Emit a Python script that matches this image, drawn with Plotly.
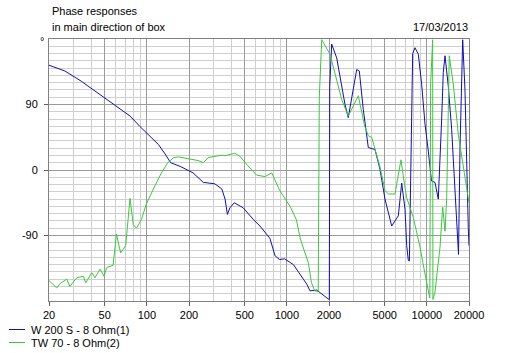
import plotly.graph_objects as go
import math

# ---- data ----
w200_freq = [20, 26, 34, 41, 52, 57, 76, 89, 99, 121, 135, 148, 173, 214, 253, 306, 343, 362, 376, 392,
             421, 488, 576, 643, 757, 824, 888, 962, 1114, 1244, 1389, 1462, 1634, 1970, 2010, 2025, 2090,
             2270, 2464, 2602, 2746, 2984, 3154, 3292, 3516, 3818, 4264, 4626, 5024, 5610, 6254, 6611,
             6980, 7180, 7370, 7500, 7670, 7920, 8230, 8690, 9180, 9700, 10240, 10520, 10790, 11430,
             12070, 12760, 13100, 13480, 14230, 15040, 15890, 16830, 17250, 18030, 18720, 19260, 19760, 20000]
w200_phase = [144, 136, 122, 111, 97, 92, 74, 60, 51, 35, 22, 10, 5, -4, -17, -19, -26, -40, -61, -52,
              -45, -52, -68, -77, -94, -118, -123, -122, -130, -143, -157, -166, -165, -177, -178, 115, 173,
              154, 118, 90, 72, 113, 138, 136, 83, 31, 28, 1, -40, -77, -63, -18,
              -54, -104, -124, -125, 19, 160, 168, 159, 118, 63, 26, 1, -15, -17,
              -40, 70, 134, 157, 115, 56, -36, -116, 30, 179, 110, -4, -79, -104]

tw70_freq = [20, 22.7, 24, 26.8, 28.2, 31.6, 35.2, 36.6, 40.4, 42.6, 46.3, 49.4, 51.6, 57.4, 60.6, 65,
             70.6, 75.8, 80, 84.3, 91.5, 99, 114, 127, 141, 155, 168, 192, 214, 232, 253, 274, 333, 370,
             424, 461, 515, 608, 697, 780, 888, 1054, 1168, 1250, 1421, 1500, 1580, 1675, 1705, 1774,
             2034, 2270, 2464, 2746, 3238, 3600, 3818, 4036, 4626, 5024, 5306, 5920, 6535, 6900, 7180,
             8000, 8934, 9700, 10240, 10500, 10650, 11000, 11050, 11430, 12416, 12980, 13480, 13860,
             14460, 15440, 16770, 18210, 19260, 20000]
tw70_phase = [-152, -162, -156, -150, -160, -148, -146, -155, -141, -148, -136, -146, -134, -131, -88, -114,
              -104, -39, -75, -80, -68, -47, -22, -4, 10, 17, 18, 16, 15, 13, 10, 17, 20, 20,
              23, 19, 8, -7, -9, -4, -28, -50, -68, -95, -127, -155, -166, -167, 100, 179,
              159, 125, 97, 74, 102, 60, 47, 45, 4, -28, -33, -33, 14, -18, -38,
              -65, -106, -143, -168, -176, 120, 179, -178, -168, -106, -51, -84, -38,
              157, 118, 49, 1, -25, -45]

x_ticks = [20, 50, 100, 200, 500, 1000, 2000, 5000, 10000, 20000]
x_minor = [30, 40, 60, 70, 80, 90, 300, 400, 600, 700, 800, 900, 3000, 4000, 6000, 7000, 8000, 9000]
y_ticks = [-90, 0, 90]

series_names = ["W 200 S - 8 Ohm(1)", "TW 70 - 8 Ohm(2)"]
series_colors = ["#1010b0", "#3cc83c"]

# ---- figure ----
W, H = 515, 353
L, R, T, B = 49, 46, 39, 52
PW, PH = W - L - R, H - T - B


def px_x(px):
    return (px - L) / PW


def px_y(py):
    return (H - B - py) / PH


FONT = "Liberation Sans, Arial, sans-serif"

fig = go.Figure()
for f, p, name, col in [(w200_freq, w200_phase, series_names[0], series_colors[0]),
                        (tw70_freq, tw70_phase, series_names[1], series_colors[1])]:
    fig.add_trace(go.Scatter(x=f, y=p, mode="lines", name=name,
                             line=dict(color=col, width=1), showlegend=False))

fig.update_layout(
    width=W, height=H,
    margin=dict(l=L, r=R, t=T, b=B),
    paper_bgcolor="white", plot_bgcolor="white",
    font=dict(family=FONT, size=11, color="#000000"),
)
fig.update_xaxes(
    type="log", range=[math.log10(20), math.log10(20000)],
    tickmode="array", tickvals=x_ticks, ticktext=[str(v) for v in x_ticks],
    ticks="outside", ticklen=4, tickcolor="#606060",
    showgrid=True, gridcolor="#9a9a9a", gridwidth=1,
    minor=dict(tickvals=x_minor, showgrid=True, gridcolor="#cfcfcf", gridwidth=1, ticks=""),
    showline=True, linecolor="#808080", linewidth=1, mirror=True,
    zeroline=False, tickfont=dict(size=11),
)
fig.update_yaxes(
    range=[-180, 180],
    tickmode="array", tickvals=y_ticks, ticktext=[str(v) for v in y_ticks],
    ticks="outside", ticklen=4, tickcolor="#606060", ticklabelstandoff=4,
    showgrid=True, gridcolor="#9a9a9a", gridwidth=1,
    minor=dict(dtick=10, tick0=0, showgrid=True, gridcolor="#cfcfcf", gridwidth=1, ticks=""),
    showline=True, linecolor="#808080", linewidth=1, mirror=True,
    zeroline=False, tickfont=dict(size=11),
)

ann = [
    dict(text="Phase responses", x=px_x(50), y=px_y(11), xanchor="left", yanchor="middle"),
    dict(text="in main direction of box", x=px_x(50), y=px_y(27), xanchor="left", yanchor="middle"),
    dict(text="17/03/2013", x=px_x(470), y=px_y(27), xanchor="right", yanchor="middle"),
    dict(text="°", x=px_x(42), y=px_y(33), xanchor="center", yanchor="top"),
    dict(text=series_names[0], x=px_x(29), y=px_y(329.5), xanchor="left", yanchor="middle"),
    dict(text=series_names[1], x=px_x(29), y=px_y(342.5), xanchor="left", yanchor="middle"),
]
for a in ann:
    fig.add_annotation(xref="paper", yref="paper", showarrow=False,
                       font=dict(family=FONT, size=11, color="#000000"), **a)

for ly, col in [(329.5, series_colors[0]), (342.5, series_colors[1])]:
    fig.add_shape(type="line", xref="paper", yref="paper",
                  x0=px_x(9), x1=px_x(25), y0=px_y(ly), y1=px_y(ly),
                  line=dict(color=col, width=1))

fig.write_html("out.html")
